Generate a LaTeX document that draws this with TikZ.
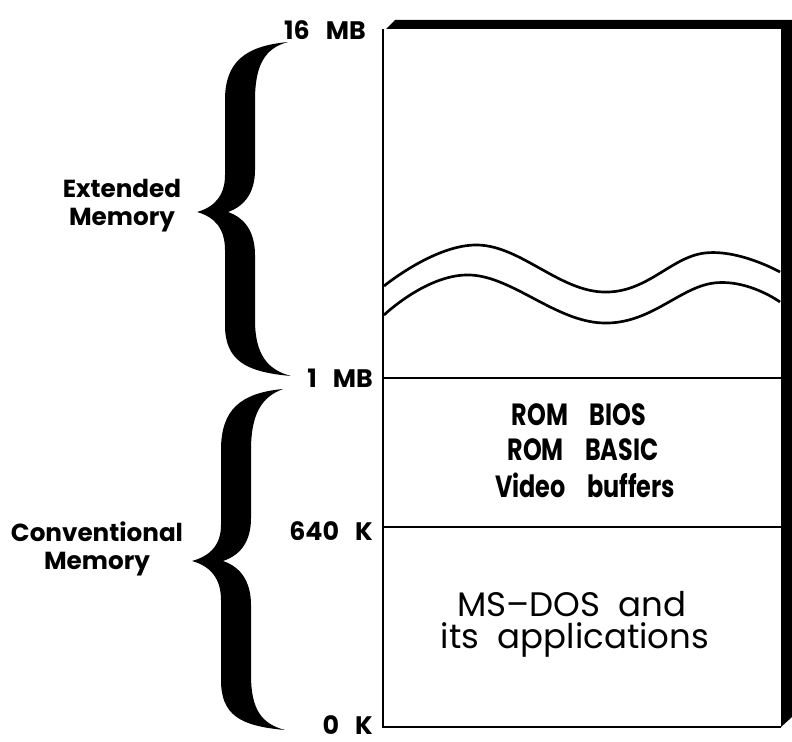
\documentclass[tikz,border=0pt]{standalone}
\usepackage{fontspec}
\setmainfont{Poppins}
\newfontfamily\demi{Poppins}
\newfontfamily\demicond{Poppins}[FakeStretch=0.78]
\usetikzlibrary{positioning}

\tikzset{
  memlabel/.style={anchor=east,inner sep=0pt,font={\demi\bfseries\fontsize{19}{22}\selectfont\spaceskip 12pt\relax}},
  boxtext/.style={inner sep=0pt,font={\demicond\bfseries\fontsize{23}{26}\selectfont\spaceskip 16pt\relax}},
  bigtext/.style={inner sep=0pt,font={\fontsize{25.5}{30}\selectfont\spaceskip 14pt\relax}},
  sidetext/.style={inner sep=0pt,align=center,font={\demi\bfseries\fontsize{18.5}{21}\selectfont}},
  wave/.style={line width=2pt,line join=round}
}

\begin{document}
\begin{tikzpicture}[x=0.75pt,y=-0.75pt]
\useasboundingbox (0,0) rectangle (792,742);

% the box and its shadow
\fill[black] (383,32) -- (395,20) -- (792,20) -- (792,717) -- (781,727) -- cycle;
\fill[white] (383,29) rectangle (781,727);
\draw[line width=1.5pt] (383,29) -- (383,727) -- (781,727);
\draw[line width=1.2pt] (383,378) -- (781,378);%1 MB
\draw[line width=1.2pt] (383,527) -- (781,527);%640 K

% the break
\draw[wave] plot[smooth,tension=0.7] coordinates{(384,286) (478,245) (603,292) (705,253) (780,272)};
\draw[wave] plot[smooth,tension=0.7] coordinates{(384,315) (470,275) (603,323) (714,283) (780,302)};

% braces
\fill (288,42) .. controls (245,46) and (225,62) .. (225,100) -- (225,175)
  .. controls (225,195) and (215,207) .. (197,212)
  .. controls (215,217) and (225,229) .. (225,250) -- (225,325)
  .. controls (225,360) and (245,372) .. (291,376)
  .. controls (268,370) and (255,355) .. (255,320) -- (255,255)
  .. controls (255,232) and (245,218) .. (228,212)
  .. controls (245,206) and (255,192) .. (255,170) -- (255,100)
  .. controls (255,65) and (265,48) .. (288,42) -- cycle;

\fill (283,389) .. controls (240,393) and (221,410) .. (221,450) -- (221,525)
  .. controls (221,545) and (210,556) .. (192,561)
  .. controls (210,566) and (221,578) .. (221,600) -- (221,680)
  .. controls (221,715) and (240,726) .. (285,730)
  .. controls (262,724) and (251,710) .. (251,675) -- (251,605)
  .. controls (251,582) and (241,567) .. (223,561)
  .. controls (241,555) and (251,541) .. (251,518) -- (251,450)
  .. controls (251,415) and (261,397) .. (283,389) -- cycle;

% addresses
\node[memlabel] (mb16) at (366,30) {16 MB};
\node[memlabel] (mb1) at (373,378) {1 MB};
\node[memlabel] (k640) at (373,531) {640 K};
\node[memlabel] (k0) at (373,725) {0 K};

% inside the box
\node[boxtext] (rombios) at (579,415) {ROM BIOS};
\node[boxtext] (rombasic) at (583,450) {ROM BASIC};
\node[boxtext] (video) at (585,485) {Video buffers};
\node[bigtext] (msdos) at (572,604) {MS{\textendash}DOS and};
\node[bigtext] (apps) at (575,640) {its applications};

% the two kinds of memory
\node[sidetext] (extended) at (122,206) {Extended\\Memory};
\node[sidetext] (conventional) at (97,549) {Conventional\\Memory};

\end{tikzpicture}
\end{document}
